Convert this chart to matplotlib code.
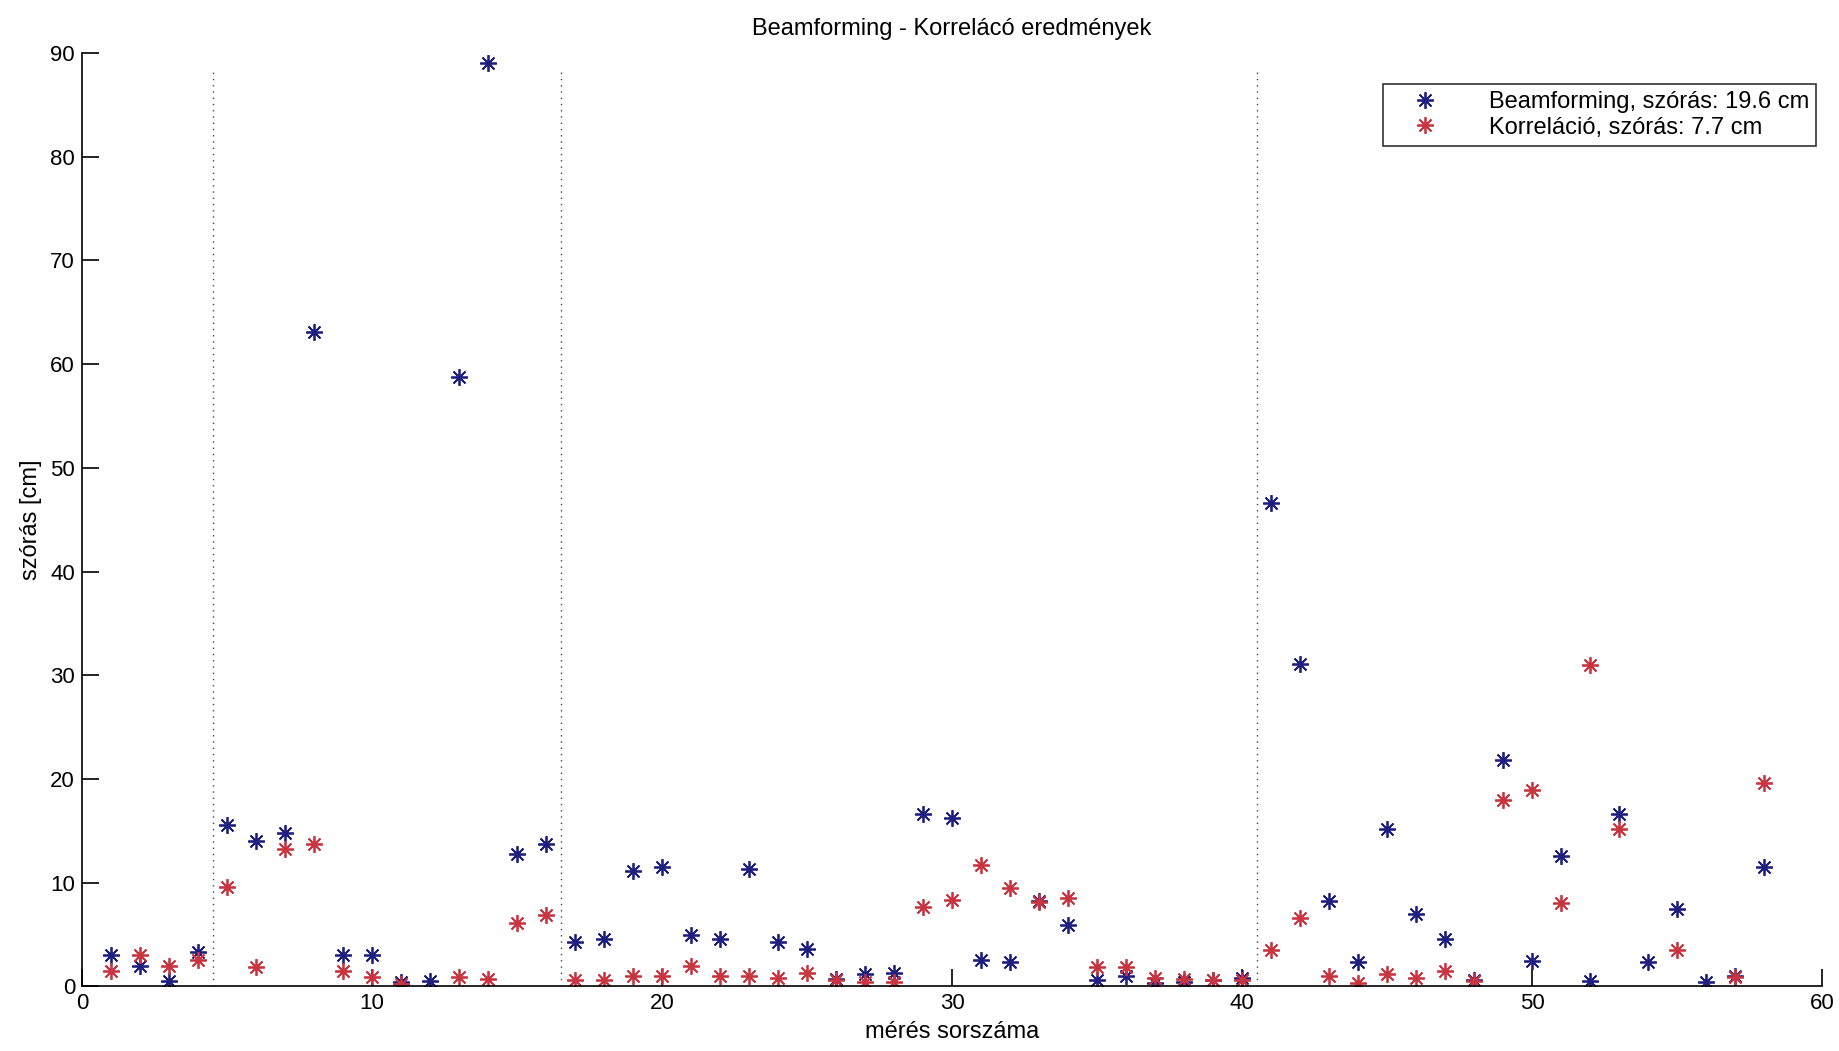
import matplotlib
matplotlib.use("Agg")
import matplotlib.pyplot as plt
import numpy as np

plt.rcParams["font.family"] = ["Liberation Sans", "DejaVu Sans"]

# measurement index
meres = np.arange(1, 59)

# Beamforming std (cm)
beamforming = [3.0, 2.0, 0.5, 3.3, 15.6, 14.0, 14.8, 63.1, 3.0, 3.0,
               0.4, 0.5, 58.8, 89.0, 12.8, 13.7, 4.3, 4.6, 11.1, 11.5,
               5.0, 4.6, 11.3, 4.3, 3.6, 0.7, 1.2, 1.3, 16.6, 16.2,
               2.6, 2.4, 8.2, 5.9, 0.6, 1.0, 0.3, 0.4, 0.6, 0.8,
               46.6, 31.1, 8.2, 2.4, 15.2, 7.0, 4.6, 0.6, 21.8, 2.5,
               12.6, 0.5, 16.6, 2.4, 7.5, 0.4, 1.0, 11.5]

# Correlation std (cm), nan where no point is visible
korrelacio = [1.5, 3.0, 2.0, 2.6, 9.6, 1.9, 13.3, 13.7, 1.5, 0.9,
              0.2, np.nan, 0.9, 0.7, 6.1, 6.9, 0.6, 0.6, 1.0, 1.0,
              2.0, 1.0, 1.0, 0.8, 1.3, 0.6, 0.4, 0.4, 7.7, 8.3,
              11.7, 9.5, 8.1, 8.5, 1.9, 1.9, 0.8, 0.7, 0.6, 0.6,
              3.5, 6.6, 1.0, 0.3, 1.2, 0.8, 1.5, 0.5, 18.0, 18.9,
              8.0, 31.0, 15.2, np.nan, 3.5, np.nan, 0.9, 19.6]

# group separators
hatarok = [4.5, 16.5, 40.5]
hatar_teteje = 88.5

star = (8, 2, 0)

fig = plt.figure(figsize=(18.39, 10.51), dpi=100)
ax = fig.add_axes([0.0446, 0.0614, 0.9462, 0.8882])

for h in hatarok:
    ax.plot([h, h], [0, hatar_teteje], linestyle=(0, (1, 3.5)), color="#444444",
            linewidth=1.0)

ax.plot(meres, beamforming, linestyle="none", marker=star, markersize=12,
        markeredgewidth=1.3, color="#1f1f80",
        label="Beamforming, szórás: 19.6 cm")
ax.plot(meres, korrelacio, linestyle="none", marker=star, markersize=12,
        markeredgewidth=1.3, color="#c8343f",
        label="Korreláció, szórás: 7.7 cm")

ax.set_xlim(0, 60)
ax.set_ylim(0, 90)
ax.set_xticks(np.arange(0, 61, 10))
ax.set_yticks(np.arange(0, 91, 10))
ax.spines["top"].set_visible(False)
ax.spines["right"].set_visible(False)
ax.spines["left"].set_linewidth(1.2)
ax.spines["bottom"].set_linewidth(1.2)
ax.tick_params(direction="in", length=12, width=1.2, labelsize=16, pad=5)
ax.tick_params(axis="x", pad=5)

ax.set_title("Beamforming - Korrelácó eredmények", fontsize=17, pad=13)
ax.set_xlabel("mérés sorszáma", fontsize=17, labelpad=5)
ax.set_ylabel("szórás [cm]", fontsize=17, labelpad=6)

leg = ax.legend(loc="upper right", bbox_to_anchor=(0.9966, 0.9668),
                fontsize=17, frameon=True, fancybox=False, borderaxespad=0,
                handlelength=3.0, handletextpad=1.2, borderpad=0.3,
                labelspacing=0.15)
leg.get_frame().set_edgecolor("black")
leg.get_frame().set_linewidth(1.2)

fig.savefig("out.png", dpi=100)
